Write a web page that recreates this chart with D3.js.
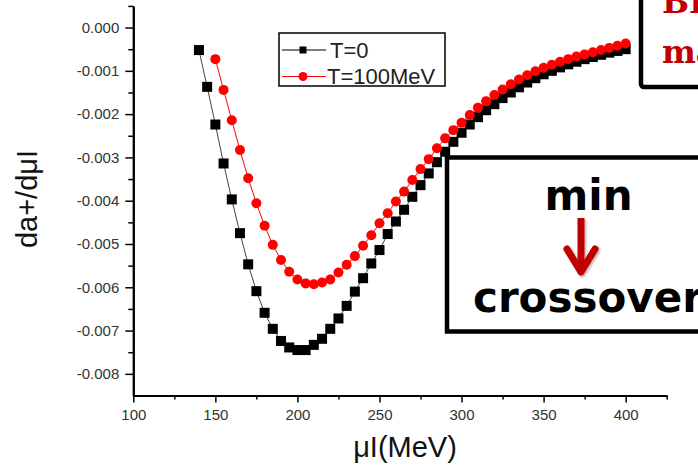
<!DOCTYPE html>
<html>
<head>
<meta charset="utf-8">
<script src="https://cdn.jsdelivr.net/npm/d3@7"></script>
<style>
  html, body { margin: 0; padding: 0; background: #fff; }
  svg { display: block; }
</style>
</head>
<body>
<svg id="chart" width="698" height="475"></svg>
<script>
// Chemical potential (MeV) and slope da+/dmu_I for the two temperatures
const muT0 = [140, 145, 150, 155, 160, 165, 170, 175, 180, 185, 190, 195, 200, 205, 210, 215, 220, 225, 230, 235,
  240, 245, 250, 255, 260, 265, 270, 275, 280, 285, 290, 295, 300, 305, 310, 315, 320, 325, 330, 335,
  340, 345, 350, 355, 360, 365, 370, 375, 380, 385, 390, 395, 400];
const slopeT0 = [-0.00052, -0.00137, -0.00224, -0.00314, -0.00397, -0.00475, -0.00547, -0.00609, -0.00659, -0.00696,
  -0.00724, -0.00739, -0.00745, -0.00745, -0.00733, -0.00719, -0.00696, -0.00672, -0.00643, -0.00610,
  -0.00579, -0.00545, -0.00514, -0.00477, -0.00448, -0.00421, -0.00391, -0.00364, -0.00337, -0.00311,
  -0.00287, -0.00264, -0.00243, -0.00224, -0.00207, -0.00191, -0.00177, -0.00163, -0.00150, -0.00138,
  -0.00127, -0.00117, -0.00108, -0.00100, -0.00092, -0.00085, -0.00079, -0.00073, -0.00068, -0.00063,
  -0.00058, -0.00054, -0.00050];

const muT100 = [150, 155, 160, 165, 170, 175, 180, 185, 190, 195, 200, 205, 210, 215, 220, 225, 230, 235, 240, 245,
  250, 255, 260, 265, 270, 275, 280, 285, 290, 295, 300, 305, 310, 315, 320, 325, 330, 335, 340, 345,
  350, 355, 360, 365, 370, 375, 380, 385, 390, 395, 400];
const slopeT100 = [-0.00073, -0.00144, -0.00214, -0.00283, -0.00348, -0.00406, -0.00458, -0.00502, -0.00537, -0.00564,
  -0.00582, -0.00591, -0.00593, -0.00589, -0.00582, -0.00566, -0.00548, -0.00528, -0.00504, -0.00480,
  -0.00452, -0.00429, -0.00402, -0.00379, -0.00352, -0.00327, -0.00304, -0.00279, -0.00256, -0.00237,
  -0.00220, -0.00202, -0.00185, -0.00170, -0.00156, -0.00143, -0.00131, -0.00120, -0.00110, -0.00101,
  -0.00093, -0.00086, -0.00079, -0.00073, -0.00067, -0.00062, -0.00057, -0.00052, -0.00047, -0.00042,
  -0.00037];

const seriesNames = ["T=0", "T=100MeV"];
const xMajorTicks = [100, 150, 200, 250, 300, 350, 400];
const xMinorTicks = [125, 175, 225, 275, 325, 375, 425];
const yMajorTicks = [0, -0.001, -0.002, -0.003, -0.004, -0.005, -0.006, -0.007, -0.008];
const yMinorTicks = [0.0005, -0.0005, -0.0015, -0.0025, -0.0035, -0.0045, -0.0055, -0.0065, -0.0075];
const xLabel = "\u03bcI(MeV)";
const yLabel = "da+/d\u03bcI";
const noteLines = ["BEC", "mass"];
const boxTop = "min";
const boxBottom = "crossover";

const svg = d3.select("#chart");
const tickFont = "'Liberation Sans', Arial, sans-serif";

const x = d3.scaleLinear().domain([100, 425]).range([133.3, 666.7]);
const y = d3.scaleLinear().domain([-0.0085, 0.0005]).range([395.5, 5.9]);

// Axes: major ticks with labels, minor ticks without
function styleAxis(g) {
  g.select(".domain").attr("stroke", "#000").attr("stroke-width", 2);
  g.selectAll(".tick line").attr("stroke", "#000").attr("stroke-width", 1.5);
  g.selectAll(".tick text").attr("fill", "#333").attr("font-family", tickFont).attr("font-size", 15);
}

const gx = svg.append("g").attr("transform", `translate(0,${y(-0.0085)})`);
gx.append("g").call(d3.axisBottom(x).tickValues(xMinorTicks).tickSize(4).tickFormat("").tickSizeOuter(0))
  .call(styleAxis);
gx.append("g").call(d3.axisBottom(x).tickValues(xMajorTicks).tickSize(7).tickPadding(7)
  .tickFormat(d3.format("d")).tickSizeOuter(0)).call(styleAxis);

const gy = svg.append("g").attr("transform", `translate(${x(100)},0)`);
gy.append("g").call(d3.axisLeft(y).tickValues(yMinorTicks).tickSize(5).tickFormat("").tickSizeOuter(0))
  .call(styleAxis);
gy.append("g").call(d3.axisLeft(y).tickValues(yMajorTicks).tickSize(8).tickPadding(6)
  .tickFormat(d => d.toFixed(3)).tickSizeOuter(0)).call(styleAxis);

// Axis titles
svg.append("text")
  .attr("x", 405).attr("y", 457)
  .attr("text-anchor", "middle")
  .attr("font-family", tickFont).attr("font-size", 29).attr("fill", "#111")
  .text(xLabel);

svg.append("text")
  .attr("transform", "translate(37,199) rotate(-90)")
  .attr("text-anchor", "middle")
  .attr("font-family", tickFont).attr("font-size", 29).attr("fill", "#111")
  .text(yLabel);

// Series
const line = d3.line().x(d => x(d[0])).y(d => y(d[1]));
const dataT0 = muT0.map((m, i) => [m, slopeT0[i]]);
const dataT100 = muT100.map((m, i) => [m, slopeT100[i]]);

svg.append("path").datum(dataT0).attr("d", line)
  .attr("fill", "none").attr("stroke", "#444").attr("stroke-width", 1);
svg.append("g").selectAll("rect").data(dataT0).join("rect")
  .attr("x", d => x(d[0]) - 5).attr("y", d => y(d[1]) - 5)
  .attr("width", 10).attr("height", 10).attr("fill", "#000");

svg.append("path").datum(dataT100).attr("d", line)
  .attr("fill", "none").attr("stroke", "#ff0000").attr("stroke-width", 1);
svg.append("g").selectAll("circle").data(dataT100).join("circle")
  .attr("cx", d => x(d[0])).attr("cy", d => y(d[1]))
  .attr("r", 5).attr("fill", "#ff0000");

// Legend
const legend = svg.append("g");
legend.append("rect").attr("x", 279).attr("y", 33).attr("width", 166).attr("height", 53)
  .attr("fill", "#fff").attr("stroke", "#000").attr("stroke-width", 1.5);
const legendRows = [
  { name: seriesNames[0], cy: 50, color: "#000", shape: "square", tx: 330, ty: 57.5 },
  { name: seriesNames[1], cy: 76.5, color: "#ff0000", shape: "circle", tx: 327, ty: 84 }
];
legendRows.forEach(r => {
  legend.append("line").attr("x1", 282).attr("x2", 326).attr("y1", r.cy).attr("y2", r.cy)
    .attr("stroke", r.color).attr("stroke-width", 1.2);
  if (r.shape === "square") {
    legend.append("rect").attr("x", 299.5).attr("y", r.cy - 3.5).attr("width", 7).attr("height", 7).attr("fill", r.color);
  } else {
    legend.append("circle").attr("cx", 303).attr("cy", r.cy).attr("r", 4.5).attr("fill", r.color);
  }
  legend.append("text").attr("x", r.tx).attr("y", r.ty)
    .attr("font-family", tickFont).attr("font-size", 22).attr("fill", "#222")
    .text(r.name);
});

// Annotation boxes on top of the plot
const note = svg.append("g");
note.append("rect").attr("x", 641).attr("y", -20).attr("width", 120).attr("height", 107).attr("rx", 3)
  .attr("fill", "#fff").attr("stroke", "#000").attr("stroke-width", 4.5);
noteLines.forEach((t, i) => {
  note.append("text").attr("x", 662).attr("y", 13 + i * 50)
    .attr("font-family", "'DejaVu Serif', serif").attr("font-weight", "bold")
    .attr("font-size", 32).attr("fill", "#c00000").text(t);
});

const box = svg.append("g");
box.append("rect").attr("x", 447).attr("y", 157.5).attr("width", 320).attr("height", 174)
  .attr("fill", "#fff").attr("stroke", "#000").attr("stroke-width", 4.5);
box.append("text").attr("x", 588.5).attr("y", 210).attr("text-anchor", "middle")
  .attr("font-family", "'DejaVu Sans', sans-serif").attr("font-weight", "bold")
  .attr("font-size", 42).attr("fill", "#000").text(boxTop);
box.append("text").attr("x", 473).attr("y", 311.5)
  .attr("font-family", "'DejaVu Sans', sans-serif").attr("font-weight", "bold")
  .attr("font-size", 42).attr("fill", "#000").text(boxBottom);

// Red down arrow between the two words
const defs = svg.append("defs");
const shadow = defs.append("filter").attr("id", "arrowShadow").attr("x", "-50%").attr("y", "-50%")
  .attr("width", "200%").attr("height", "200%");
shadow.append("feDropShadow").attr("dx", 1.5).attr("dy", 1.5).attr("stdDeviation", 1.2)
  .attr("flood-color", "#000").attr("flood-opacity", 0.3);
const arrow = box.append("g").attr("filter", "url(#arrowShadow)")
  .attr("stroke", "#c00000").attr("stroke-width", 7).attr("fill", "none");
arrow.append("path").attr("d", "M581,218 V271").attr("stroke-linecap", "butt");
arrow.append("path").attr("d", "M567,249 L581,272 L595,249")
  .attr("stroke-linecap", "round").attr("stroke-linejoin", "round");
</script>
</body>
</html>
